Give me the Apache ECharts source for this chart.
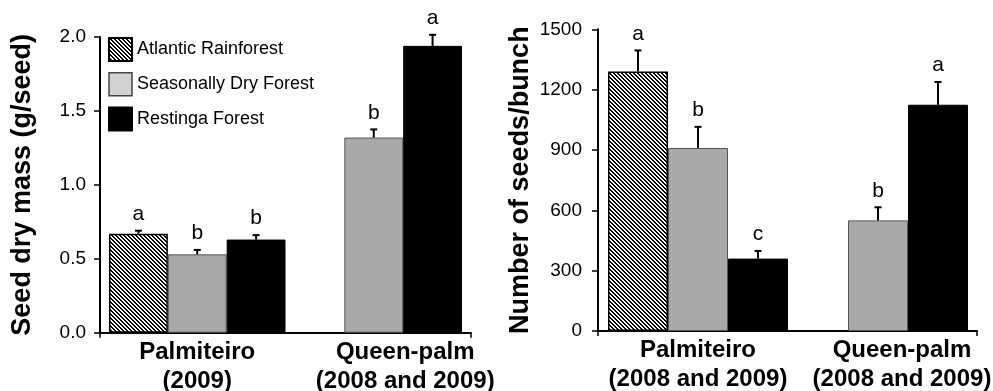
<!DOCTYPE html>
<html>
<head>
<meta charset="utf-8">
<script src="https://cdn.jsdelivr.net/npm/echarts@6/dist/echarts.min.js"></script>
<style>
html,body{margin:0;padding:0;background:#fff;}
#chart{width:993px;height:391px;}
</style>
</head>
<body>
<div id="chart"></div>
<script>
// ---- data ----
const seriesNames = ['Atlantic Rainforest', 'Seasonally Dry Forest', 'Restinga Forest'];
const massCategories = ['Palmiteiro\n(2009)', 'Queen-palm\n(2008 and 2009)'];
const seedCategories = ['Palmiteiro\n(2008 and 2009)', 'Queen-palm\n(2008 and 2009)'];

const massAtlantic = [0.67, null];
const massDry = [0.53, 1.32];
const massRestinga = [0.63, 1.94];
const massAtlanticSE = [0.02, null];
const massDrySE = [0.03, 0.055];
const massRestingaSE = [0.03, 0.075];
const massAtlanticLetters = ['a', null];
const massDryLetters = ['b', 'b'];
const massRestingaLetters = ['b', 'a'];

const seedAtlantic = [1290, null];
const seedDry = [910, 550];
const seedRestinga = [360, 1125];
const seedAtlanticSE = [105, null];
const seedDrySE = [105, 65];
const seedRestingaSE = [38, 113];
const seedAtlanticLetters = ['a', null];
const seedDryLetters = ['b', 'b'];
const seedRestingaLetters = ['c', 'a'];

const massTicks = {min: 0, max: 2, interval: 0.5};
const seedTicks = {min: 0, max: 1500, interval: 300};

// ---- styles ----
const FONT = '"Liberation Sans", Arial, Helvetica, sans-serif';
function hatchPattern() {
  const s = 4;
  const c = document.createElement('canvas');
  c.width = s; c.height = s;
  const g = c.getContext('2d');
  g.fillStyle = '#fff';
  g.fillRect(0, 0, s, s);
  g.fillStyle = '#000';
  for (let i = 0; i < s; i++) {
    g.fillRect(i, i, 1, 1);
    g.fillRect((i + 1) % s, i, 1, 1);
  }
  return {image: c, repeat: 'repeat'};
}
const hatch = hatchPattern();
const barStyles = [
  {color: hatch, borderColor: '#000', borderWidth: 1.5},
  {color: '#a9a9a9', borderColor: '#555', borderWidth: 1},
  {color: '#000', borderColor: '#000', borderWidth: 1}
];

function errItems(values, ses, letters, sIdx) {
  const out = [];
  values.forEach((v, i) => {
    if (v != null) out.push({value: [i, v, ses[i], sIdx], letter: letters[i]});
  });
  return out;
}

function makeErrSeries(groups, axisIdx) {
  const data = [];
  groups.forEach(g => data.push(...errItems(g[0], g[1], g[2], g[3])));
  return {
    type: 'custom',
    xAxisIndex: axisIdx, yAxisIndex: axisIdx,
    z: 5,
    silent: true,
    data: data,
    renderItem: function (params, api) {
      const cat = api.value(0), v = api.value(1), se = api.value(2), s = api.value(3);
      const catW = api.size([1, 0])[0];
      const bw = catW / 3;
      const base = api.coord([cat, v]);
      const top = api.coord([cat, v + se]);
      const x = base[0] + (s - 1) * bw;
      const letter = data[params.dataIndex].letter;
      return {
        type: 'group',
        children: [
          {type: 'line', shape: {x1: x, y1: base[1], x2: x, y2: top[1]}, style: {stroke: '#000', lineWidth: 2}},
          {type: 'line', shape: {x1: x - 3.5, y1: top[1], x2: x + 3.5, y2: top[1]}, style: {stroke: '#000', lineWidth: 2}},
          {type: 'text', x: x, y: top[1] - 6, style: {text: letter, fill: '#000', font: '21px ' + FONT, textAlign: 'center', textVerticalAlign: 'bottom'}}
        ]
      };
    }
  };
}

const yAxisCommon = {
  type: 'value',
  nameLocation: 'middle',
  nameGap: 64,
  nameRotate: 90,
  nameTextStyle: {fontSize: 27, fontWeight: 'bold', color: '#000', fontFamily: FONT},
  axisLine: {show: true, lineStyle: {color: '#000', width: 2}},
  axisTick: {show: true, length: 6, lineStyle: {color: '#000', width: 1.5}},
  axisLabel: {fontSize: 19, color: '#000', fontFamily: FONT},
  splitLine: {show: false}
};
const xMainCommon = {
  type: 'category',
  axisLine: {show: false},
  axisTick: {show: false},
  axisLabel: {show: true, interval: 0, margin: 5, fontSize: 24, fontWeight: 'bold', color: '#000', fontFamily: FONT, lineHeight: 29}
};
const xHelperCommon = {
  type: 'category',
  data: [''],
  boundaryGap: true,
  axisLine: {show: true, lineStyle: {color: '#000', width: 2}},
  axisTick: {show: true, length: 5, lineStyle: {color: '#000', width: 1.5}},
  axisLabel: {show: false}
};

const option = {
  animation: false,
  backgroundColor: '#fff',
  textStyle: {fontFamily: FONT},
  grid: [
    {left: 109, top: 37, width: 353, height: 295.7, containLabel: false, outerBoundsMode: 'none'},
    {left: 100, top: 37, width: 371, height: 295.7, containLabel: false, outerBoundsMode: 'none'},
    {left: 608, top: 29.3, width: 360, height: 301.7, containLabel: false, outerBoundsMode: 'none'},
    {left: 598, top: 29.3, width: 379, height: 301.7, containLabel: false, outerBoundsMode: 'none'}
  ],
  legend: {
    show: true,
    orient: 'vertical',
    left: 108, top: 37,
    padding: 0,
    itemWidth: 23, itemHeight: 23, itemGap: 10,
    icon: 'rect',
    selectedMode: false,
    textStyle: {fontSize: 18, color: '#000', fontFamily: FONT},
    data: [
      {name: seriesNames[0]},
      {name: seriesNames[1], itemStyle: {color: '#d2d2d2', borderColor: '#444', borderWidth: 1.5}},
      {name: seriesNames[2]}
    ]
  },
  xAxis: [
    Object.assign({}, xMainCommon, {gridIndex: 0, data: [
      {value: massCategories[0]},
      {value: massCategories[1], textStyle: {padding: [0, 0, 0, 63]}}
    ]}),
    Object.assign({}, xHelperCommon, {gridIndex: 1}),
    Object.assign({}, xMainCommon, {gridIndex: 2, data: [
      {value: seedCategories[0]},
      {value: seedCategories[1], textStyle: {padding: [0, 0, 0, 48]}}
    ]}),
    Object.assign({}, xHelperCommon, {gridIndex: 3})
  ],
  yAxis: [
    Object.assign({}, yAxisCommon, {gridIndex: 0, offset: 9, name: 'Seed dry mass (g/seed)',
      min: massTicks.min, max: massTicks.max, interval: massTicks.interval,
      axisLabel: Object.assign({}, yAxisCommon.axisLabel, {margin: 14, formatter: v => v.toFixed(1)})}),
    {type: 'value', gridIndex: 1, show: false, min: 0, max: 1},
    Object.assign({}, yAxisCommon, {gridIndex: 2, offset: 10, name: 'Number of seeds/bunch',
      min: seedTicks.min, max: seedTicks.max, interval: seedTicks.interval,
      axisLabel: Object.assign({}, yAxisCommon.axisLabel, {margin: 16, formatter: v => String(v)})}),
    {type: 'value', gridIndex: 3, show: false, min: 0, max: 1}
  ],
  series: [
    {name: seriesNames[0], type: 'bar', xAxisIndex: 0, yAxisIndex: 0, data: massAtlantic, barGap: '0%', barCategoryGap: '0%', itemStyle: barStyles[0]},
    {name: seriesNames[1], type: 'bar', xAxisIndex: 0, yAxisIndex: 0, data: massDry, barGap: '0%', barCategoryGap: '0%', itemStyle: barStyles[1]},
    {name: seriesNames[2], type: 'bar', xAxisIndex: 0, yAxisIndex: 0, data: massRestinga, barGap: '0%', barCategoryGap: '0%', itemStyle: barStyles[2]},
    {name: seriesNames[0], type: 'bar', xAxisIndex: 2, yAxisIndex: 2, data: seedAtlantic, barGap: '0%', barCategoryGap: '0%', itemStyle: barStyles[0]},
    {name: seriesNames[1], type: 'bar', xAxisIndex: 2, yAxisIndex: 2, data: seedDry, barGap: '0%', barCategoryGap: '0%', itemStyle: barStyles[1]},
    {name: seriesNames[2], type: 'bar', xAxisIndex: 2, yAxisIndex: 2, data: seedRestinga, barGap: '0%', barCategoryGap: '0%', itemStyle: barStyles[2]},
    makeErrSeries([
      [massAtlantic, massAtlanticSE, massAtlanticLetters, 0],
      [massDry, massDrySE, massDryLetters, 1],
      [massRestinga, massRestingaSE, massRestingaLetters, 2]
    ], 0),
    makeErrSeries([
      [seedAtlantic, seedAtlanticSE, seedAtlanticLetters, 0],
      [seedDry, seedDrySE, seedDryLetters, 1],
      [seedRestinga, seedRestingaSE, seedRestingaLetters, 2]
    ], 2)
  ]
};

const chart = echarts.init(document.getElementById('chart'), null, {renderer: 'canvas'});
chart.setOption(option);
</script>
</body>
</html>
